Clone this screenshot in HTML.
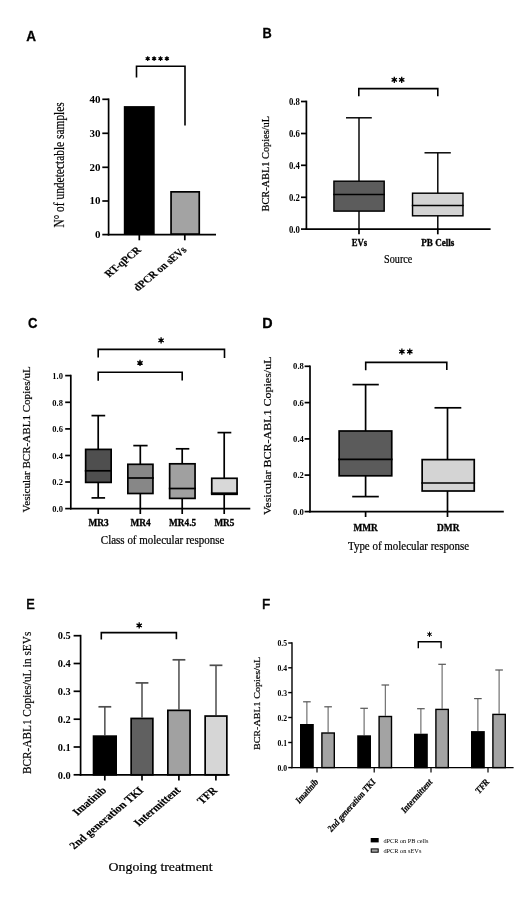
<!DOCTYPE html>
<html><head><meta charset="utf-8"><style>
html,body{margin:0;padding:0;background:#fff;width:520px;height:924px;overflow:hidden}
svg{display:block;filter:grayscale(1) blur(0.4px)}
</style></head><body>
<svg width="520" height="924" viewBox="0 0 520 924">
<rect x="0" y="0" width="520" height="924" fill="#fff"/>
<text transform="translate(26.3,41.2) scale(0.88,1)" style="font-family:'Liberation Sans', sans-serif;font-size:15.4px;font-weight:bold;" fill="#000" stroke="#000" stroke-width="0.3">A</text>
<path d="M147.70,56.20L147.70,61.00M149.78,57.40L145.62,59.80M149.78,59.80L145.62,57.40" stroke="#000" stroke-width="1.2" fill="none"/>
<circle cx="147.7" cy="58.6" r="1.4" fill="#000"/>
<path d="M154.10,56.20L154.10,61.00M156.18,57.40L152.02,59.80M156.18,59.80L152.02,57.40" stroke="#000" stroke-width="1.2" fill="none"/>
<circle cx="154.1" cy="58.6" r="1.4" fill="#000"/>
<path d="M160.50,56.20L160.50,61.00M162.58,57.40L158.42,59.80M162.58,59.80L158.42,57.40" stroke="#000" stroke-width="1.2" fill="none"/>
<circle cx="160.5" cy="58.6" r="1.4" fill="#000"/>
<path d="M166.90,56.20L166.90,61.00M168.98,57.40L164.82,59.80M168.98,59.80L164.82,57.40" stroke="#000" stroke-width="1.2" fill="none"/>
<circle cx="166.9" cy="58.6" r="1.4" fill="#000"/>
<path d="M136.5,77.5V66.2H185V125.5" stroke="#000" stroke-width="1.6" fill="none"/>
<line x1="108.6" y1="98.45" x2="108.6" y2="235.45" stroke="#000" stroke-width="1.7"/>
<line x1="102.3" y1="99.3" x2="108.6" y2="99.3" stroke="#000" stroke-width="1.7"/>
<text x="100.6" y="102.6" text-anchor="end" style="font-family:'Liberation Serif', serif;font-size:9.6px;font-weight:bold;" fill="#000" textLength="11.0" lengthAdjust="spacingAndGlyphs">40</text>
<line x1="102.3" y1="133.3" x2="108.6" y2="133.3" stroke="#000" stroke-width="1.7"/>
<text x="100.6" y="136.6" text-anchor="end" style="font-family:'Liberation Serif', serif;font-size:9.6px;font-weight:bold;" fill="#000" textLength="11.0" lengthAdjust="spacingAndGlyphs">30</text>
<line x1="102.3" y1="167.3" x2="108.6" y2="167.3" stroke="#000" stroke-width="1.7"/>
<text x="100.6" y="170.6" text-anchor="end" style="font-family:'Liberation Serif', serif;font-size:9.6px;font-weight:bold;" fill="#000" textLength="11.0" lengthAdjust="spacingAndGlyphs">20</text>
<line x1="102.3" y1="201" x2="108.6" y2="201" stroke="#000" stroke-width="1.7"/>
<text x="100.6" y="204.3" text-anchor="end" style="font-family:'Liberation Serif', serif;font-size:9.6px;font-weight:bold;" fill="#000" textLength="11.0" lengthAdjust="spacingAndGlyphs">10</text>
<line x1="102.3" y1="234.6" x2="108.6" y2="234.6" stroke="#000" stroke-width="1.7"/>
<text x="100.6" y="237.9" text-anchor="end" style="font-family:'Liberation Serif', serif;font-size:9.6px;font-weight:bold;" fill="#000" textLength="5.5" lengthAdjust="spacingAndGlyphs">0</text>
<rect x="123.8" y="106.1" width="30.89999999999999" height="128.5" fill="#000"/>
<rect x="171.05" y="191.85" width="28.20" height="42.30" fill="#a3a2a7" stroke="#000" stroke-width="1.7"/>
<line x1="107.8" y1="234.6" x2="216" y2="234.6" stroke="#000" stroke-width="1.7"/>
<line x1="139.3" y1="234.6" x2="139.3" y2="240.3" stroke="#000" stroke-width="1.7"/>
<line x1="184.8" y1="234.6" x2="184.8" y2="240.3" stroke="#000" stroke-width="1.7"/>
<text transform="matrix(0.70711,-0.5869,0.70711,0.5869,141.9,250.6)" text-anchor="end" style="font-family:'Liberation Serif', serif;font-size:12.0px;font-weight:bold;" fill="#000" stroke="#000" stroke-width="0.2" textLength="46.3" lengthAdjust="spacingAndGlyphs">RT-qPCR</text>
<text transform="matrix(0.70711,-0.5869,0.70711,0.5869,187.4,250.6)" text-anchor="end" style="font-family:'Liberation Serif', serif;font-size:12.0px;font-weight:bold;" fill="#000" stroke="#000" stroke-width="0.2" textLength="69.7" lengthAdjust="spacingAndGlyphs">dPCR on sEVs</text>
<text transform="translate(63.6,164.9) rotate(-90)" text-anchor="middle" style="font-family:'Liberation Serif', serif;font-size:14.0px;" fill="#000" stroke="#000" stroke-width="0.2" textLength="125.4" lengthAdjust="spacingAndGlyphs">N° of undetectable samples</text>
<text transform="translate(262.6,37.6) scale(0.83,1)" style="font-family:'Liberation Sans', sans-serif;font-size:15.4px;font-weight:bold;" fill="#000" stroke="#000" stroke-width="0.3">B</text>
<path d="M394.30,76.70L394.30,82.90M396.98,78.25L391.62,81.35M396.98,81.35L391.62,78.25" stroke="#000" stroke-width="1.3" fill="none"/>
<circle cx="394.3" cy="79.8" r="1.55" fill="#000"/>
<path d="M401.70,76.70L401.70,82.90M404.38,78.25L399.02,81.35M404.38,81.35L399.02,78.25" stroke="#000" stroke-width="1.3" fill="none"/>
<circle cx="401.7" cy="79.8" r="1.55" fill="#000"/>
<path d="M358.8,96.3V88.6H437.8V96.2" stroke="#000" stroke-width="1.6" fill="none"/>
<line x1="306.4" y1="100.65" x2="306.4" y2="229.95" stroke="#000" stroke-width="1.7"/>
<line x1="301.0" y1="101.5" x2="306.4" y2="101.5" stroke="#000" stroke-width="1.7"/>
<text x="299.9" y="104.9" text-anchor="end" style="font-family:'Liberation Serif', serif;font-size:9.4px;font-weight:bold;" fill="#000" textLength="10.9" lengthAdjust="spacingAndGlyphs">0.8</text>
<line x1="301.0" y1="133.5" x2="306.4" y2="133.5" stroke="#000" stroke-width="1.7"/>
<text x="299.9" y="136.9" text-anchor="end" style="font-family:'Liberation Serif', serif;font-size:9.4px;font-weight:bold;" fill="#000" textLength="10.9" lengthAdjust="spacingAndGlyphs">0.6</text>
<line x1="301.0" y1="165.3" x2="306.4" y2="165.3" stroke="#000" stroke-width="1.7"/>
<text x="299.9" y="168.7" text-anchor="end" style="font-family:'Liberation Serif', serif;font-size:9.4px;font-weight:bold;" fill="#000" textLength="10.9" lengthAdjust="spacingAndGlyphs">0.4</text>
<line x1="301.0" y1="197.3" x2="306.4" y2="197.3" stroke="#000" stroke-width="1.7"/>
<text x="299.9" y="200.7" text-anchor="end" style="font-family:'Liberation Serif', serif;font-size:9.4px;font-weight:bold;" fill="#000" textLength="10.9" lengthAdjust="spacingAndGlyphs">0.2</text>
<line x1="301.0" y1="229.1" x2="306.4" y2="229.1" stroke="#000" stroke-width="1.7"/>
<text x="299.9" y="232.5" text-anchor="end" style="font-family:'Liberation Serif', serif;font-size:9.4px;font-weight:bold;" fill="#000" textLength="10.9" lengthAdjust="spacingAndGlyphs">0.0</text>
<line x1="359" y1="117.8" x2="359" y2="181.2" stroke="#000" stroke-width="1.45"/>
<line x1="346" y1="117.8" x2="371.8" y2="117.8" stroke="#000" stroke-width="1.45"/>
<line x1="359" y1="211.1" x2="359" y2="229.1" stroke="#000" stroke-width="1.45"/>
<rect x="333.93" y="181.20" width="50.25" height="29.90" fill="#5c5c5c" stroke="#000" stroke-width="1.45"/>
<line x1="333.2" y1="194.4" x2="384.9" y2="194.4" stroke="#000" stroke-width="1.45"/>
<line x1="437.8" y1="152.8" x2="437.8" y2="193.2" stroke="#000" stroke-width="1.45"/>
<line x1="424.5" y1="152.8" x2="450.8" y2="152.8" stroke="#000" stroke-width="1.45"/>
<line x1="437.8" y1="215.8" x2="437.8" y2="229.1" stroke="#000" stroke-width="1.45"/>
<rect x="412.53" y="193.20" width="50.45" height="22.60" fill="#d3d3d3" stroke="#000" stroke-width="1.45"/>
<line x1="411.8" y1="205.4" x2="463.7" y2="205.4" stroke="#000" stroke-width="1.45"/>
<line x1="305.6" y1="229.1" x2="490.6" y2="229.1" stroke="#000" stroke-width="1.7"/>
<line x1="359" y1="229.1" x2="359" y2="234.3" stroke="#000" stroke-width="1.7"/>
<line x1="437.8" y1="229.1" x2="437.8" y2="234.3" stroke="#000" stroke-width="1.7"/>
<text x="359.5" y="246.3" text-anchor="middle" style="font-family:'Liberation Serif', serif;font-size:9.4px;font-weight:bold;" fill="#000" stroke="#000" stroke-width="0.3" textLength="15.4" lengthAdjust="spacingAndGlyphs">EVs</text>
<text x="437.8" y="246.3" text-anchor="middle" style="font-family:'Liberation Serif', serif;font-size:9.4px;font-weight:bold;" fill="#000" stroke="#000" stroke-width="0.3" textLength="33" lengthAdjust="spacingAndGlyphs">PB Cells</text>
<text x="398.2" y="263.1" text-anchor="middle" style="font-family:'Liberation Serif', serif;font-size:11.6px;" fill="#000" stroke="#000" stroke-width="0.22" textLength="28.2" lengthAdjust="spacingAndGlyphs">Source</text>
<text transform="translate(268.5,163.7) rotate(-90)" text-anchor="middle" style="font-family:'Liberation Serif', serif;font-size:10.3px;" fill="#000" stroke="#000" stroke-width="0.2" textLength="95.6" lengthAdjust="spacingAndGlyphs">BCR-ABL1 Copies/uL</text>
<text transform="translate(28.1,327.9) scale(0.85,1)" style="font-family:'Liberation Sans', sans-serif;font-size:15.4px;font-weight:bold;" fill="#000" stroke="#000" stroke-width="0.3">C</text>
<path d="M161.10,337.20L161.10,343.40M163.78,338.75L158.42,341.85M163.78,341.85L158.42,338.75" stroke="#000" stroke-width="1.3" fill="none"/>
<circle cx="161.1" cy="340.3" r="1.55" fill="#000"/>
<path d="M140.00,359.80L140.00,366.00M142.68,361.35L137.32,364.45M142.68,364.45L137.32,361.35" stroke="#000" stroke-width="1.3" fill="none"/>
<circle cx="140.0" cy="362.9" r="1.55" fill="#000"/>
<path d="M98.2,357.6V349.4H224.5V358.1" stroke="#000" stroke-width="1.6" fill="none"/>
<path d="M98.2,380.8V372.3H182.2V380.6" stroke="#000" stroke-width="1.6" fill="none"/>
<line x1="70.8" y1="374.75" x2="70.8" y2="509.45000000000005" stroke="#000" stroke-width="1.7"/>
<line x1="65.2" y1="375.6" x2="70.8" y2="375.6" stroke="#000" stroke-width="1.7"/>
<text x="62.9" y="378.9" text-anchor="end" style="font-family:'Liberation Serif', serif;font-size:8.8px;font-weight:bold;" fill="#000" textLength="10.6" lengthAdjust="spacingAndGlyphs">1.0</text>
<line x1="65.2" y1="402.3" x2="70.8" y2="402.3" stroke="#000" stroke-width="1.7"/>
<text x="62.9" y="405.6" text-anchor="end" style="font-family:'Liberation Serif', serif;font-size:8.8px;font-weight:bold;" fill="#000" textLength="10.6" lengthAdjust="spacingAndGlyphs">0.8</text>
<line x1="65.2" y1="428.9" x2="70.8" y2="428.9" stroke="#000" stroke-width="1.7"/>
<text x="62.9" y="432.2" text-anchor="end" style="font-family:'Liberation Serif', serif;font-size:8.8px;font-weight:bold;" fill="#000" textLength="10.6" lengthAdjust="spacingAndGlyphs">0.6</text>
<line x1="65.2" y1="455.5" x2="70.8" y2="455.5" stroke="#000" stroke-width="1.7"/>
<text x="62.9" y="458.8" text-anchor="end" style="font-family:'Liberation Serif', serif;font-size:8.8px;font-weight:bold;" fill="#000" textLength="10.6" lengthAdjust="spacingAndGlyphs">0.4</text>
<line x1="65.2" y1="482.0" x2="70.8" y2="482.0" stroke="#000" stroke-width="1.7"/>
<text x="62.9" y="485.3" text-anchor="end" style="font-family:'Liberation Serif', serif;font-size:8.8px;font-weight:bold;" fill="#000" textLength="10.6" lengthAdjust="spacingAndGlyphs">0.2</text>
<line x1="65.2" y1="508.6" x2="70.8" y2="508.6" stroke="#000" stroke-width="1.7"/>
<text x="62.9" y="511.9" text-anchor="end" style="font-family:'Liberation Serif', serif;font-size:8.8px;font-weight:bold;" fill="#000" textLength="10.6" lengthAdjust="spacingAndGlyphs">0.0</text>
<line x1="98.2" y1="415.6" x2="98.2" y2="449.4" stroke="#000" stroke-width="1.7"/>
<line x1="91.5" y1="415.6" x2="105.2" y2="415.6" stroke="#000" stroke-width="1.7"/>
<line x1="98.2" y1="482.4" x2="98.2" y2="497.9" stroke="#000" stroke-width="1.7"/>
<line x1="91.5" y1="497.9" x2="105.1" y2="497.9" stroke="#000" stroke-width="1.7"/>
<rect x="85.65" y="449.40" width="25.50" height="33.00" fill="#4f4f4f" stroke="#000" stroke-width="1.7"/>
<line x1="84.8" y1="470.8" x2="112.0" y2="470.8" stroke="#000" stroke-width="1.7"/>
<line x1="140.3" y1="445.6" x2="140.3" y2="464.3" stroke="#000" stroke-width="1.7"/>
<line x1="133.3" y1="445.6" x2="147.6" y2="445.6" stroke="#000" stroke-width="1.7"/>
<line x1="140.3" y1="493.5" x2="140.3" y2="508.6" stroke="#000" stroke-width="1.7"/>
<rect x="127.85" y="464.30" width="25.10" height="29.20" fill="#878787" stroke="#000" stroke-width="1.7"/>
<line x1="127.0" y1="478.0" x2="153.8" y2="478.0" stroke="#000" stroke-width="1.7"/>
<line x1="182.2" y1="448.8" x2="182.2" y2="463.8" stroke="#000" stroke-width="1.7"/>
<line x1="175.8" y1="448.8" x2="189.3" y2="448.8" stroke="#000" stroke-width="1.7"/>
<line x1="182.2" y1="498.4" x2="182.2" y2="508.6" stroke="#000" stroke-width="1.7"/>
<rect x="169.65" y="463.80" width="25.40" height="34.60" fill="#a0a0a4" stroke="#000" stroke-width="1.7"/>
<line x1="168.8" y1="488.5" x2="195.9" y2="488.5" stroke="#000" stroke-width="1.7"/>
<line x1="224.2" y1="432.6" x2="224.2" y2="478.3" stroke="#000" stroke-width="1.7"/>
<line x1="217.5" y1="432.6" x2="231.3" y2="432.6" stroke="#000" stroke-width="1.7"/>
<line x1="224.2" y1="494.3" x2="224.2" y2="508.6" stroke="#000" stroke-width="1.7"/>
<rect x="211.75" y="478.30" width="25.30" height="16.00" fill="#d8d8d8" stroke="#000" stroke-width="1.7"/>
<line x1="210.9" y1="493.2" x2="237.9" y2="493.2" stroke="#000" stroke-width="1.7"/>
<line x1="70.0" y1="508.6" x2="250.3" y2="508.6" stroke="#000" stroke-width="1.7"/>
<line x1="98.2" y1="508.6" x2="98.2" y2="514" stroke="#000" stroke-width="1.7"/>
<line x1="140.3" y1="508.6" x2="140.3" y2="514" stroke="#000" stroke-width="1.7"/>
<line x1="182.2" y1="508.6" x2="182.2" y2="514" stroke="#000" stroke-width="1.7"/>
<line x1="224.2" y1="508.6" x2="224.2" y2="514" stroke="#000" stroke-width="1.7"/>
<text x="98.6" y="525.9" text-anchor="middle" style="font-family:'Liberation Serif', serif;font-size:10.0px;font-weight:bold;" fill="#000" stroke="#000" stroke-width="0.3" textLength="20.3" lengthAdjust="spacingAndGlyphs">MR3</text>
<text x="140.6" y="525.9" text-anchor="middle" style="font-family:'Liberation Serif', serif;font-size:10.0px;font-weight:bold;" fill="#000" stroke="#000" stroke-width="0.3" textLength="20.3" lengthAdjust="spacingAndGlyphs">MR4</text>
<text x="182.6" y="525.9" text-anchor="middle" style="font-family:'Liberation Serif', serif;font-size:10.0px;font-weight:bold;" fill="#000" stroke="#000" stroke-width="0.3" textLength="27" lengthAdjust="spacingAndGlyphs">MR4.5</text>
<text x="224.4" y="525.9" text-anchor="middle" style="font-family:'Liberation Serif', serif;font-size:10.0px;font-weight:bold;" fill="#000" stroke="#000" stroke-width="0.3" textLength="20.0" lengthAdjust="spacingAndGlyphs">MR5</text>
<text x="162.6" y="544.1" text-anchor="middle" style="font-family:'Liberation Serif', serif;font-size:11.6px;" fill="#000" stroke="#000" stroke-width="0.22" textLength="123.5" lengthAdjust="spacingAndGlyphs">Class of molecular response</text>
<text transform="translate(29.9,439.35) rotate(-90)" text-anchor="middle" style="font-family:'Liberation Serif', serif;font-size:10.7px;" fill="#000" stroke="#000" stroke-width="0.2" textLength="146.3" lengthAdjust="spacingAndGlyphs">Vesicular BCR-ABL1 Copies/uL</text>
<text transform="translate(262.3,327.7) scale(0.93,1)" style="font-family:'Liberation Sans', sans-serif;font-size:15.4px;font-weight:bold;" fill="#000" stroke="#000" stroke-width="0.3">D</text>
<path d="M401.90,348.50L401.90,354.70M404.58,350.05L399.22,353.15M404.58,353.15L399.22,350.05" stroke="#000" stroke-width="1.3" fill="none"/>
<circle cx="401.9" cy="351.6" r="1.55" fill="#000"/>
<path d="M409.80,348.50L409.80,354.70M412.48,350.05L407.12,353.15M412.48,353.15L407.12,350.05" stroke="#000" stroke-width="1.3" fill="none"/>
<circle cx="409.8" cy="351.6" r="1.55" fill="#000"/>
<path d="M365.7,370.3V362.4H446.8V370.1" stroke="#000" stroke-width="1.6" fill="none"/>
<line x1="310.0" y1="365.45" x2="310.0" y2="512.45" stroke="#000" stroke-width="1.7"/>
<line x1="304.6" y1="366.3" x2="310.0" y2="366.3" stroke="#000" stroke-width="1.7"/>
<text x="303.9" y="369.4" text-anchor="end" style="font-family:'Liberation Serif', serif;font-size:8.8px;font-weight:bold;" fill="#000" textLength="10.8" lengthAdjust="spacingAndGlyphs">0.8</text>
<line x1="304.6" y1="402.6" x2="310.0" y2="402.6" stroke="#000" stroke-width="1.7"/>
<text x="303.9" y="405.7" text-anchor="end" style="font-family:'Liberation Serif', serif;font-size:8.8px;font-weight:bold;" fill="#000" textLength="10.8" lengthAdjust="spacingAndGlyphs">0.6</text>
<line x1="304.6" y1="438.9" x2="310.0" y2="438.9" stroke="#000" stroke-width="1.7"/>
<text x="303.9" y="442.0" text-anchor="end" style="font-family:'Liberation Serif', serif;font-size:8.8px;font-weight:bold;" fill="#000" textLength="10.8" lengthAdjust="spacingAndGlyphs">0.4</text>
<line x1="304.6" y1="475.1" x2="310.0" y2="475.1" stroke="#000" stroke-width="1.7"/>
<text x="303.9" y="478.2" text-anchor="end" style="font-family:'Liberation Serif', serif;font-size:8.8px;font-weight:bold;" fill="#000" textLength="10.8" lengthAdjust="spacingAndGlyphs">0.2</text>
<line x1="304.6" y1="511.6" x2="310.0" y2="511.6" stroke="#000" stroke-width="1.7"/>
<text x="303.9" y="514.7" text-anchor="end" style="font-family:'Liberation Serif', serif;font-size:8.8px;font-weight:bold;" fill="#000" textLength="10.8" lengthAdjust="spacingAndGlyphs">0.0</text>
<line x1="365.6" y1="384.6" x2="365.6" y2="431.0" stroke="#000" stroke-width="1.7"/>
<line x1="352.5" y1="384.6" x2="378.8" y2="384.6" stroke="#000" stroke-width="1.7"/>
<line x1="365.6" y1="475.8" x2="365.6" y2="496.6" stroke="#000" stroke-width="1.7"/>
<line x1="352.2" y1="496.6" x2="378.8" y2="496.6" stroke="#000" stroke-width="1.7"/>
<rect x="339.15" y="431.00" width="52.60" height="44.80" fill="#5b5b5b" stroke="#000" stroke-width="1.7"/>
<line x1="338.3" y1="459.3" x2="392.6" y2="459.3" stroke="#000" stroke-width="1.7"/>
<line x1="447.5" y1="407.8" x2="447.5" y2="459.6" stroke="#000" stroke-width="1.7"/>
<line x1="434.5" y1="407.8" x2="461.3" y2="407.8" stroke="#000" stroke-width="1.7"/>
<line x1="447.5" y1="491.0" x2="447.5" y2="511.6" stroke="#000" stroke-width="1.7"/>
<rect x="422.15" y="459.60" width="52.10" height="31.40" fill="#d4d4d4" stroke="#000" stroke-width="1.7"/>
<line x1="421.3" y1="483.0" x2="475.1" y2="483.0" stroke="#000" stroke-width="1.7"/>
<line x1="309.2" y1="511.6" x2="503.8" y2="511.6" stroke="#000" stroke-width="1.7"/>
<line x1="365.6" y1="511.6" x2="365.6" y2="517" stroke="#000" stroke-width="1.7"/>
<line x1="447.5" y1="511.6" x2="447.5" y2="517" stroke="#000" stroke-width="1.7"/>
<text x="365.7" y="530.5" text-anchor="middle" style="font-family:'Liberation Serif', serif;font-size:9.8px;font-weight:bold;" fill="#000" stroke="#000" stroke-width="0.3" textLength="24.3" lengthAdjust="spacingAndGlyphs">MMR</text>
<text x="448.3" y="530.5" text-anchor="middle" style="font-family:'Liberation Serif', serif;font-size:9.8px;font-weight:bold;" fill="#000" stroke="#000" stroke-width="0.3" textLength="22.5" lengthAdjust="spacingAndGlyphs">DMR</text>
<text x="408.5" y="549.8" text-anchor="middle" style="font-family:'Liberation Serif', serif;font-size:11.7px;" fill="#000" stroke="#000" stroke-width="0.22" textLength="121" lengthAdjust="spacingAndGlyphs">Type of molecular response</text>
<text transform="translate(271.0,435.75) rotate(-90)" text-anchor="middle" style="font-family:'Liberation Serif', serif;font-size:10.7px;" fill="#000" stroke="#000" stroke-width="0.2" textLength="158.5" lengthAdjust="spacingAndGlyphs">Vesicular BCR-ABL1 Copies/uL</text>
<text transform="translate(26.2,609.2) scale(0.84,1)" style="font-family:'Liberation Sans', sans-serif;font-size:15.2px;" fill="#000" stroke="#000" stroke-width="0.6">E</text>
<path d="M139.20,622.30L139.20,628.50M141.88,623.85L136.52,626.95M141.88,626.95L136.52,623.85" stroke="#000" stroke-width="1.3" fill="none"/>
<circle cx="139.2" cy="625.4" r="1.55" fill="#000"/>
<path d="M101.3,639.6V632.6H176.4V639.2" stroke="#000" stroke-width="1.6" fill="none"/>
<line x1="80.6" y1="634.85" x2="80.6" y2="775.65" stroke="#000" stroke-width="1.7"/>
<line x1="73.6" y1="635.7" x2="80.6" y2="635.7" stroke="#000" stroke-width="1.7"/>
<text x="70.8" y="639.4" text-anchor="end" style="font-family:'Liberation Serif', serif;font-size:10.0px;font-weight:bold;" fill="#000" textLength="13.0" lengthAdjust="spacingAndGlyphs">0.5</text>
<line x1="73.6" y1="663.5" x2="80.6" y2="663.5" stroke="#000" stroke-width="1.7"/>
<text x="70.8" y="667.2" text-anchor="end" style="font-family:'Liberation Serif', serif;font-size:10.0px;font-weight:bold;" fill="#000" textLength="13.0" lengthAdjust="spacingAndGlyphs">0.4</text>
<line x1="73.6" y1="691.3" x2="80.6" y2="691.3" stroke="#000" stroke-width="1.7"/>
<text x="70.8" y="695.0" text-anchor="end" style="font-family:'Liberation Serif', serif;font-size:10.0px;font-weight:bold;" fill="#000" textLength="13.0" lengthAdjust="spacingAndGlyphs">0.3</text>
<line x1="73.6" y1="719.2" x2="80.6" y2="719.2" stroke="#000" stroke-width="1.7"/>
<text x="70.8" y="722.9" text-anchor="end" style="font-family:'Liberation Serif', serif;font-size:10.0px;font-weight:bold;" fill="#000" textLength="13.0" lengthAdjust="spacingAndGlyphs">0.2</text>
<line x1="73.6" y1="747.0" x2="80.6" y2="747.0" stroke="#000" stroke-width="1.7"/>
<text x="70.8" y="750.7" text-anchor="end" style="font-family:'Liberation Serif', serif;font-size:10.0px;font-weight:bold;" fill="#000" textLength="13.0" lengthAdjust="spacingAndGlyphs">0.1</text>
<line x1="73.6" y1="774.8" x2="80.6" y2="774.8" stroke="#000" stroke-width="1.7"/>
<text x="70.8" y="778.5" text-anchor="end" style="font-family:'Liberation Serif', serif;font-size:10.0px;font-weight:bold;" fill="#000" textLength="13.0" lengthAdjust="spacingAndGlyphs">0.0</text>
<line x1="104.85" y1="706.8" x2="104.85" y2="735.3" stroke="#4d4d4d" stroke-width="1.5"/>
<line x1="98.44999999999999" y1="706.8" x2="111.25" y2="706.8" stroke="#4d4d4d" stroke-width="1.7"/>
<rect x="93.55" y="736.15" width="22.60" height="38.65" fill="#000" stroke="#000" stroke-width="1.7"/>
<line x1="142.0" y1="682.9" x2="142.0" y2="717.6" stroke="#4d4d4d" stroke-width="1.5"/>
<line x1="135.6" y1="682.9" x2="148.4" y2="682.9" stroke="#4d4d4d" stroke-width="1.7"/>
<rect x="131.15" y="718.45" width="21.70" height="56.35" fill="#606060" stroke="#000" stroke-width="1.7"/>
<line x1="178.95" y1="659.8" x2="178.95" y2="709.5" stroke="#4d4d4d" stroke-width="1.5"/>
<line x1="172.54999999999998" y1="659.8" x2="185.35" y2="659.8" stroke="#4d4d4d" stroke-width="1.7"/>
<rect x="167.85" y="710.35" width="22.20" height="64.45" fill="#a1a0a5" stroke="#000" stroke-width="1.7"/>
<line x1="216.0" y1="665.3" x2="216.0" y2="715.2" stroke="#4d4d4d" stroke-width="1.5"/>
<line x1="209.6" y1="665.3" x2="222.4" y2="665.3" stroke="#4d4d4d" stroke-width="1.7"/>
<rect x="205.15" y="716.05" width="21.70" height="58.75" fill="#d6d6d6" stroke="#000" stroke-width="1.7"/>
<line x1="79.8" y1="774.8" x2="229.5" y2="774.8" stroke="#000" stroke-width="1.7"/>
<line x1="104.8" y1="774.8" x2="104.8" y2="780.5" stroke="#000" stroke-width="1.7"/>
<line x1="142.0" y1="774.8" x2="142.0" y2="780.5" stroke="#000" stroke-width="1.7"/>
<line x1="178.9" y1="774.8" x2="178.9" y2="780.5" stroke="#000" stroke-width="1.7"/>
<line x1="215.9" y1="774.8" x2="215.9" y2="780.5" stroke="#000" stroke-width="1.7"/>
<text transform="matrix(0.70711,-0.5940,0.70711,0.5940,107.1,791.0)" text-anchor="end" style="font-family:'Liberation Serif', serif;font-size:12.5px;font-weight:bold;" fill="#000" stroke="#000" stroke-width="0.2" textLength="42" lengthAdjust="spacingAndGlyphs">Imatinib</text>
<text transform="matrix(0.70711,-0.5940,0.70711,0.5940,144.3,791.0)" text-anchor="end" style="font-family:'Liberation Serif', serif;font-size:12.5px;font-weight:bold;" fill="#000" stroke="#000" stroke-width="0.2" textLength="99" lengthAdjust="spacingAndGlyphs">2nd generation TKI</text>
<text transform="matrix(0.70711,-0.5940,0.70711,0.5940,181.20000000000002,791.0)" text-anchor="end" style="font-family:'Liberation Serif', serif;font-size:12.5px;font-weight:bold;" fill="#000" stroke="#000" stroke-width="0.2" textLength="60" lengthAdjust="spacingAndGlyphs">Intermittent</text>
<text transform="matrix(0.70711,-0.5940,0.70711,0.5940,218.20000000000002,791.0)" text-anchor="end" style="font-family:'Liberation Serif', serif;font-size:12.5px;font-weight:bold;" fill="#000" stroke="#000" stroke-width="0.2" textLength="23" lengthAdjust="spacingAndGlyphs">TFR</text>
<text x="160.6" y="870.5" text-anchor="middle" style="font-family:'Liberation Serif', serif;font-size:13.0px;" fill="#000" stroke="#000" stroke-width="0.22" textLength="104" lengthAdjust="spacingAndGlyphs">Ongoing treatment</text>
<text transform="translate(31.0,702.9) rotate(-90)" text-anchor="middle" style="font-family:'Liberation Serif', serif;font-size:12.7px;" fill="#000" stroke="#000" stroke-width="0.2" textLength="142.4" lengthAdjust="spacingAndGlyphs">BCR-ABL1 Copies/uL in sEVs</text>
<text transform="translate(262.1,609.2) scale(0.88,1)" style="font-family:'Liberation Sans', sans-serif;font-size:15.2px;" fill="#000" stroke="#000" stroke-width="0.6">F</text>
<path d="M429.50,631.70L429.50,636.90M431.75,633.00L427.25,635.60M431.75,635.60L427.25,633.00" stroke="#000" stroke-width="1.0" fill="none"/>
<circle cx="429.5" cy="634.3" r="1.0" fill="#000"/>
<path d="M418.3,648.2V641.7H441.1V648.2" stroke="#000" stroke-width="1.4" fill="none"/>
<line x1="292.0" y1="642.3" x2="292.0" y2="768.3000000000001" stroke="#000" stroke-width="1.4"/>
<line x1="288.2" y1="643.0" x2="292.0" y2="643.0" stroke="#000" stroke-width="1.4"/>
<text x="287.0" y="646.0" text-anchor="end" style="font-family:'Liberation Serif', serif;font-size:8.0px;font-weight:bold;" fill="#000" textLength="9.6" lengthAdjust="spacingAndGlyphs">0.5</text>
<line x1="288.2" y1="667.8" x2="292.0" y2="667.8" stroke="#000" stroke-width="1.4"/>
<text x="287.0" y="670.8" text-anchor="end" style="font-family:'Liberation Serif', serif;font-size:8.0px;font-weight:bold;" fill="#000" textLength="9.6" lengthAdjust="spacingAndGlyphs">0.4</text>
<line x1="288.2" y1="692.6" x2="292.0" y2="692.6" stroke="#000" stroke-width="1.4"/>
<text x="287.0" y="695.6" text-anchor="end" style="font-family:'Liberation Serif', serif;font-size:8.0px;font-weight:bold;" fill="#000" textLength="9.6" lengthAdjust="spacingAndGlyphs">0.3</text>
<line x1="288.2" y1="717.5" x2="292.0" y2="717.5" stroke="#000" stroke-width="1.4"/>
<text x="287.0" y="720.5" text-anchor="end" style="font-family:'Liberation Serif', serif;font-size:8.0px;font-weight:bold;" fill="#000" textLength="9.6" lengthAdjust="spacingAndGlyphs">0.2</text>
<line x1="288.2" y1="742.5" x2="292.0" y2="742.5" stroke="#000" stroke-width="1.4"/>
<text x="287.0" y="745.5" text-anchor="end" style="font-family:'Liberation Serif', serif;font-size:8.0px;font-weight:bold;" fill="#000" textLength="9.6" lengthAdjust="spacingAndGlyphs">0.1</text>
<line x1="288.2" y1="767.6" x2="292.0" y2="767.6" stroke="#000" stroke-width="1.4"/>
<text x="287.0" y="770.6" text-anchor="end" style="font-family:'Liberation Serif', serif;font-size:8.0px;font-weight:bold;" fill="#000" textLength="9.6" lengthAdjust="spacingAndGlyphs">0.0</text>
<line x1="306.9" y1="701.8" x2="306.9" y2="724.0" stroke="#555" stroke-width="1.0"/>
<line x1="303.09999999999997" y1="701.8" x2="310.7" y2="701.8" stroke="#555" stroke-width="1.2"/>
<rect x="300.0" y="724.0" width="13.800000000000011" height="44.30000000000007" fill="#000"/>
<line x1="328.1" y1="706.8" x2="328.1" y2="732.3" stroke="#555" stroke-width="1.0"/>
<line x1="324.3" y1="706.8" x2="331.90000000000003" y2="706.8" stroke="#555" stroke-width="1.2"/>
<rect x="321.90" y="733.00" width="12.40" height="34.60" fill="#a3a2a7" stroke="#000" stroke-width="1.4"/>
<line x1="364.1" y1="708.3" x2="364.1" y2="735.3" stroke="#555" stroke-width="1.0"/>
<line x1="360.3" y1="708.3" x2="367.90000000000003" y2="708.3" stroke="#555" stroke-width="1.2"/>
<rect x="357.2" y="735.3" width="13.800000000000011" height="33.000000000000114" fill="#000"/>
<line x1="385.29999999999995" y1="685.0" x2="385.29999999999995" y2="715.8" stroke="#555" stroke-width="1.0"/>
<line x1="381.49999999999994" y1="685.0" x2="389.09999999999997" y2="685.0" stroke="#555" stroke-width="1.2"/>
<rect x="379.10" y="716.50" width="12.40" height="51.10" fill="#a3a2a7" stroke="#000" stroke-width="1.4"/>
<line x1="420.9" y1="708.7" x2="420.9" y2="733.7" stroke="#555" stroke-width="1.0"/>
<line x1="417.09999999999997" y1="708.7" x2="424.7" y2="708.7" stroke="#555" stroke-width="1.2"/>
<rect x="414.0" y="733.7" width="13.800000000000011" height="34.60000000000002" fill="#000"/>
<line x1="442.1" y1="664.3" x2="442.1" y2="708.7" stroke="#555" stroke-width="1.0"/>
<line x1="438.3" y1="664.3" x2="445.90000000000003" y2="664.3" stroke="#555" stroke-width="1.2"/>
<rect x="435.90" y="709.40" width="12.40" height="58.20" fill="#a3a2a7" stroke="#000" stroke-width="1.4"/>
<line x1="477.9" y1="698.6" x2="477.9" y2="731.1" stroke="#555" stroke-width="1.0"/>
<line x1="474.09999999999997" y1="698.6" x2="481.7" y2="698.6" stroke="#555" stroke-width="1.2"/>
<rect x="471.0" y="731.1" width="13.800000000000011" height="37.200000000000045" fill="#000"/>
<line x1="499.1" y1="670.0" x2="499.1" y2="713.7" stroke="#555" stroke-width="1.0"/>
<line x1="495.3" y1="670.0" x2="502.90000000000003" y2="670.0" stroke="#555" stroke-width="1.2"/>
<rect x="492.90" y="714.40" width="12.40" height="53.20" fill="#a3a2a7" stroke="#000" stroke-width="1.4"/>
<line x1="291.3" y1="767.6" x2="513.6" y2="767.6" stroke="#000" stroke-width="1.4"/>
<line x1="317.0" y1="767.6" x2="317.0" y2="772.6" stroke="#000" stroke-width="1.2"/>
<text transform="matrix(0.70711,-0.7920,0.70711,0.7920,318.7,782.5)" text-anchor="end" style="font-family:'Liberation Serif', serif;font-size:8.8px;font-weight:bold;" fill="#000" stroke="#000" stroke-width="0.2" textLength="27.5" lengthAdjust="spacingAndGlyphs">Imatinib</text>
<line x1="374.2" y1="767.6" x2="374.2" y2="772.6" stroke="#000" stroke-width="1.2"/>
<text transform="matrix(0.70711,-0.7920,0.70711,0.7920,375.9,782.5)" text-anchor="end" style="font-family:'Liberation Serif', serif;font-size:8.8px;font-weight:bold;" fill="#000" stroke="#000" stroke-width="0.2" textLength="63" lengthAdjust="spacingAndGlyphs">2nd generation TKI</text>
<line x1="431.0" y1="767.6" x2="431.0" y2="772.6" stroke="#000" stroke-width="1.2"/>
<text transform="matrix(0.70711,-0.7920,0.70711,0.7920,432.7,782.5)" text-anchor="end" style="font-family:'Liberation Serif', serif;font-size:8.8px;font-weight:bold;" fill="#000" stroke="#000" stroke-width="0.2" textLength="39.5" lengthAdjust="spacingAndGlyphs">Intermittent</text>
<line x1="488.0" y1="767.6" x2="488.0" y2="772.6" stroke="#000" stroke-width="1.2"/>
<text transform="matrix(0.70711,-0.7920,0.70711,0.7920,489.7,782.5)" text-anchor="end" style="font-family:'Liberation Serif', serif;font-size:8.8px;font-weight:bold;" fill="#000" stroke="#000" stroke-width="0.2" textLength="15" lengthAdjust="spacingAndGlyphs">TFR</text>
<text transform="translate(259.6,703.45) rotate(-90)" text-anchor="middle" style="font-family:'Liberation Serif', serif;font-size:8.4px;" fill="#000" stroke="#000" stroke-width="0.2" textLength="93.3" lengthAdjust="spacingAndGlyphs">BCR-ABL1 Copies/uL</text>
<rect x="370.7" y="838.0" width="8.0" height="4.399999999999977" fill="#000"/>
<rect x="371.20" y="848.90" width="7.00" height="3.30" fill="#a3a2a7" stroke="#000" stroke-width="1.0"/>
<text x="383.4" y="842.6" text-anchor="start" style="font-family:'Liberation Serif', serif;font-size:6.2px;" fill="#000" textLength="45" lengthAdjust="spacingAndGlyphs">dPCR on PB cells</text>
<text x="383.4" y="852.6" text-anchor="start" style="font-family:'Liberation Serif', serif;font-size:6.2px;" fill="#000" textLength="38" lengthAdjust="spacingAndGlyphs">dPCR on sEVs</text>
</svg>
</body></html>
